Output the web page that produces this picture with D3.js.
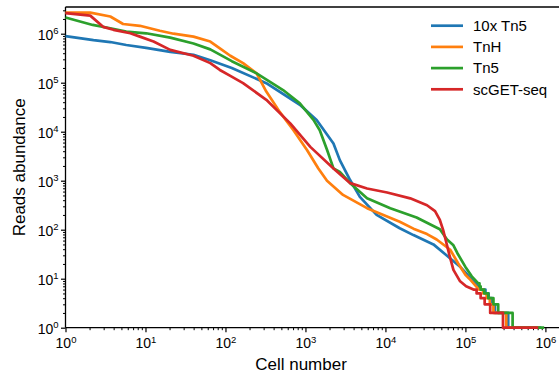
<!DOCTYPE html>
<html><head><meta charset="utf-8">
<script src="https://cdn.jsdelivr.net/npm/d3@7"></script>
<style>
html,body{margin:0;padding:0;background:#fff;}
svg{display:block;font-family:"Liberation Sans",Arial,Helvetica,sans-serif;}
</style></head>
<body>
<svg id="chart" width="559" height="378"></svg>
<script>
const seriesNames = ["10x Tn5", "TnH", "Tn5", "scGET-seq"];
const seriesColors = ["#1f77b4", "#ff7f0e", "#2ca02c", "#d62728"];

const cells10x = [1,2.24,3.63,5.75,10.2,20.4,39.8,64.6,120,324,851,1380,2240,2690,3630,4790,7760,15100,22400,39800,58900,85100,100000,117000,158000,178000,178000,195000,195000,214000,214000,234000,234000,343000,343000,891000];
const reads10x = [891000,741000,676000,589000,513000,427000,372000,288000,200000,97700,35500,17400,5750,2630,1020,468,200,107,77.6,50.1,29.5,17.8,13.5,10,6,6,5,5,4,4,3,3,2,2,1,1];

const cellsTnH = [1,2.04,3.63,5.25,8.51,15.1,22.4,39.8,64.6,85.1,115,166,245,324,479,708,1050,1450,1860,2950,5890,15100,22400,33100,43700,64600,81300,100000,112000,148000,166000,166000,184000,184000,202000,202000,224000,224000,324000,324000,851000];
const readsTnH = [2690000,2690000,2240000,1580000,1450000,1150000,1000000,871000,692000,501000,355000,251000,155000,66100,25100,10700,4170,1780,1000,513,275,145,105,81.3,63.1,38.9,20.4,12,10,6,6,5,5,4,4,3,3,2,2,1,1];

const cellsTn5 = [1,2.19,3.63,5.75,10.2,20.4,39.8,64.6,120,245,525,851,1260,1510,1860,2240,2690,3630,5890,11500,24500,47900,58900,70800,79400,100000,120000,145000,150000,150000,155000,155000,172000,172000,193000,193000,224000,224000,257000,257000,389000,389000,966000];
const readsTn5 = [2140000,1510000,1290000,1100000,1020000,832000,631000,479000,275000,155000,70800,38000,17400,10700,4270,1780,1510,891,437,275,178,102,63.1,47.9,33.1,17.4,11.2,8,8,7,7,6,6,5,5,4,4,3,3,2,2,1,1];

const cellsGET = [1,2.04,2.95,3.98,6.46,8.51,12.6,20.4,39.8,64.6,85.1,115,166,324,646,1150,2240,3630,5890,10500,20400,33100,41700,47900,52500,57500,63100,70800,85100,102000,126000,138000,138000,155000,155000,174000,174000,204000,204000,295000,295000,813000];
const readsGET = [2630000,2340000,1380000,1200000,1020000,871000,692000,468000,355000,251000,182000,138000,97700,44700,14800,4900,1780,891,692,575,437,316,240,158,100,56.2,30.2,15.1,9,7,6,6,5,5,4,4,3,3,2,2,1,1];

const xMajorTicks = [1e0,1e1,1e2,1e3,1e4,1e5,1e6];
const xTickExps = ["0","1","2","3","4","5","6"];
const yMajorTicks = [1e0,1e1,1e2,1e3,1e4,1e5,1e6];
const yTickExps = ["0","1","2","3","4","5","6"];

const xTitle = "Cell number";
const yTitle = "Reads abundance";

const svg = d3.select("#chart");
const L = 65.5, R = 559, T = 7, B = 327.7;
const x = d3.scaleLog().domain([1, Math.pow(10, 6.17)]).range([L, R]);
const y = d3.scaleLog().domain([1, Math.pow(10, 6.545)]).range([B, T]);

function minorTicks(scale){
  const [a,b] = scale.domain();
  const out = [];
  for (let e = Math.floor(Math.log10(a)); e <= Math.ceil(Math.log10(b)); e++){
    for (let m = 2; m <= 9; m++){
      const v = m * Math.pow(10, e);
      if (v >= a && v <= b) out.push(v);
    }
  }
  return out;
}

// minor ticks
svg.append("g").attr("transform", `translate(0,${B})`)
  .call(d3.axisBottom(x).tickValues(minorTicks(x)).tickSize(2.5).tickFormat(""))
  .call(g => g.select(".domain").remove())
  .selectAll("line").attr("stroke","#000").attr("stroke-width",1);
svg.append("g").attr("transform", `translate(${L},0)`)
  .call(d3.axisLeft(y).tickValues(minorTicks(y)).tickSize(2.5).tickFormat(""))
  .call(g => g.select(".domain").remove())
  .selectAll("line").attr("stroke","#000").attr("stroke-width",1);

// major axes
const xAxis = svg.append("g").attr("transform", `translate(0,${B})`)
  .call(d3.axisBottom(x).tickValues(xMajorTicks).tickSize(4.5).tickSizeOuter(0).tickFormat(""));
xAxis.select(".domain").attr("stroke","#000").attr("stroke-width",1.3).attr("d", `M${L},0H${R}`);
xAxis.selectAll(".tick line").attr("stroke","#000").attr("stroke-width",1.2);
xAxis.selectAll(".tick").each(function(d,i){
  const t = d3.select(this).append("text").attr("fill","#000").attr("y",20.5)
    .attr("text-anchor","middle").attr("font-size",14);
  t.append("tspan").text("10");
  t.append("tspan").attr("dy",-5.5).attr("font-size",9.5).text(xTickExps[i]);
});

const yAxis = svg.append("g").attr("transform", `translate(${L},0)`)
  .call(d3.axisLeft(y).tickValues(yMajorTicks).tickSize(4.5).tickSizeOuter(0).tickFormat(""));
yAxis.select(".domain").attr("stroke","#000").attr("stroke-width",1.3).attr("d", `M0,${B}V${T}`);
yAxis.selectAll(".tick line").attr("stroke","#000").attr("stroke-width",1.2);
yAxis.selectAll(".tick").each(function(d,i){
  const t = d3.select(this).append("text").attr("fill","#000").attr("x",-7).attr("y",5.5)
    .attr("text-anchor","end").attr("font-size",14);
  t.append("tspan").text("10");
  t.append("tspan").attr("dy",-5.5).attr("font-size",9.5).text(yTickExps[i]);
});

// top frame line
svg.append("line").attr("x1",L).attr("x2",R).attr("y1",T).attr("y2",T)
  .attr("stroke","#000").attr("stroke-width",1.3);

// titles
svg.append("text").attr("x",301).attr("y",370).attr("text-anchor","middle")
  .attr("font-size",17).attr("fill","#000").text(xTitle);
svg.append("text").attr("transform",`translate(25,${(T+B)/2}) rotate(-90)`)
  .attr("text-anchor","middle").attr("font-size",17).attr("fill","#000").text(yTitle);

// lines
const data = [
  {c: cells10x, r: reads10x},
  {c: cellsTnH, r: readsTnH},
  {c: cellsTn5, r: readsTn5},
  {c: cellsGET, r: readsGET}
];
const lg = d3.line().x(d => x(d[0])).y(d => y(d[1]));
const plot = svg.append("g");
data.forEach((s,i) => {
  const pts = s.c.map((c,j) => [c, s.r[j]]);
  plot.append("path").attr("d", lg(pts)).attr("fill","none")
    .attr("stroke", seriesColors[i]).attr("stroke-width",2.7)
    .attr("stroke-linejoin","round").attr("stroke-linecap","butt");
});

// legend
const leg = svg.append("g");
seriesNames.forEach((n,i) => {
  const yy = 25.7 + i*21.2;
  leg.append("line").attr("x1",431).attr("x2",463).attr("y1",yy).attr("y2",yy)
    .attr("stroke",seriesColors[i]).attr("stroke-width",2.7);
  leg.append("text").attr("x",473).attr("y",yy+5.2).attr("font-size",15)
    .attr("fill","#000").text(n);
});
</script>
</body></html>
